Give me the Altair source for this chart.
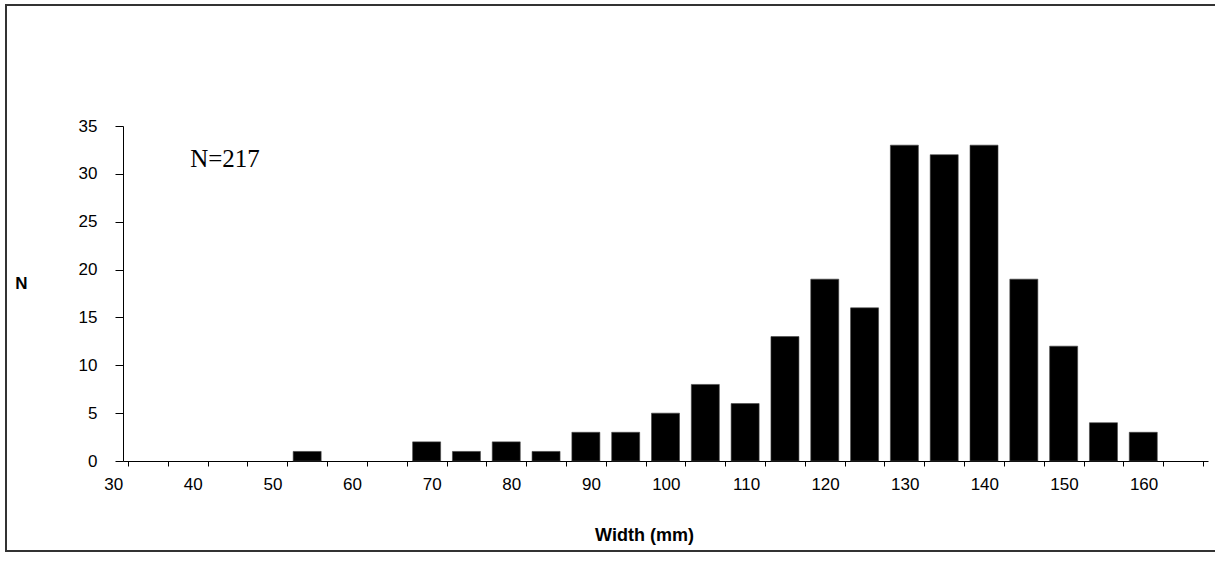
import altair as alt
import pandas as pd

# Width classes (mm, class label) and number of specimens in each
widths = [55, 70, 75, 80, 85, 90, 95, 100, 105, 110, 115, 120, 125, 130,
          135, 140, 145, 150, 155, 160]
counts = [1, 2, 1, 2, 1, 3, 3, 5, 8, 6, 13, 19, 16, 33, 32, 33, 19, 12, 4, 3]

# Category boundaries carry the tick marks; labels every 10 mm
class_edges = [32.5, 37.5, 42.5, 47.5, 52.5, 57.5, 62.5, 67.5, 72.5, 77.5,
               82.5, 87.5, 92.5, 97.5, 102.5, 107.5, 112.5, 117.5, 122.5,
               127.5, 132.5, 137.5, 142.5, 147.5, 152.5, 157.5, 162.5, 167.5]
x_labels = [30, 40, 50, 60, 70, 80, 90, 100, 110, 120, 130, 140, 150, 160]
y_ticks = [0, 5, 10, 15, 20, 25, 30, 35]

PLOT_W = 1085
PLOT_H = 335
FONT = "Liberation Sans"

df = pd.DataFrame({"width": widths, "n": counts})
labels_df = pd.DataFrame({"v": x_labels})

x_scale = alt.Scale(domain=[32.5, 167.5], nice=False, zero=False)
y_scale = alt.Scale(domain=[0, 35], nice=False)

# One x axis definition shared by every layer that uses the x scale
x_axis = alt.Axis(
    values=class_edges,
    labels=False,
    grid=False,
    tickSize=5,
    tickColor="black",
    domainColor="black",
    title="Width (mm)",
    titleFont=FONT,
    titleFontSize=18,
    titleFontWeight="bold",
    titleColor="black",
    titleX=521,
    titleY=74,
    titleAlign="center",
    titleBaseline="middle",
)

bars = alt.Chart(df).mark_bar(
    color="black", size=28, stroke="#444", strokeWidth=0.6
).encode(
    x=alt.X("width:Q", scale=x_scale, axis=x_axis),
    y=alt.Y(
        "n:Q",
        scale=y_scale,
        axis=alt.Axis(
            values=y_ticks,
            grid=False,
            tickSize=8,
            tickColor="black",
            domainColor="black",
            labelFont=FONT,
            labelFontSize=17,
            labelColor="black",
            labelPadding=18,
            title="N",
            titleFont=FONT,
            titleFontSize=17,
            titleFontWeight="bold",
            titleColor="black",
            titleAngle=0,
            titleX=-102,
            titleY=157,
            titleAlign="center",
            titleBaseline="middle",
        ),
    ),
)

# Class labels under the axis, right-aligned just past their class value
x_text = alt.Chart(labels_df).mark_text(
    font=FONT, fontSize=17, color="black", align="right",
    baseline="middle", dx=15, dy=24
).encode(
    x=alt.X("v:Q", scale=x_scale, axis=x_axis),
    y=alt.value(PLOT_H),
    text=alt.Text("v:Q"),
)

# Sample size note
note = alt.Chart(pd.DataFrame({"t": ["N=217"]})).mark_text(
    font="Liberation Serif", fontSize=25, color="black",
    align="center", baseline="middle"
).encode(
    x=alt.value(102),
    y=alt.value(33),
    text="t:N",
)

# Outer frame of the figure
frame = alt.Chart(pd.DataFrame({"k": [0]})).mark_rect(
    fillOpacity=0, stroke="#333", strokeWidth=2
).encode(
    x=alt.value(-117),
    x2=alt.value(1100),
    y=alt.value(-121),
    y2=alt.value(425),
)

chart = alt.layer(frame, bars, x_text, note).properties(
    width=PLOT_W,
    height=PLOT_H,
    autosize=alt.AutoSizeParams(type="none"),
    padding={"left": 123, "top": 126, "right": 7, "bottom": 108},
    background="white",
).configure(font=FONT).configure_view(strokeWidth=0)

chart.save("out.html", embed_options={"renderer": "svg", "actions": False})
